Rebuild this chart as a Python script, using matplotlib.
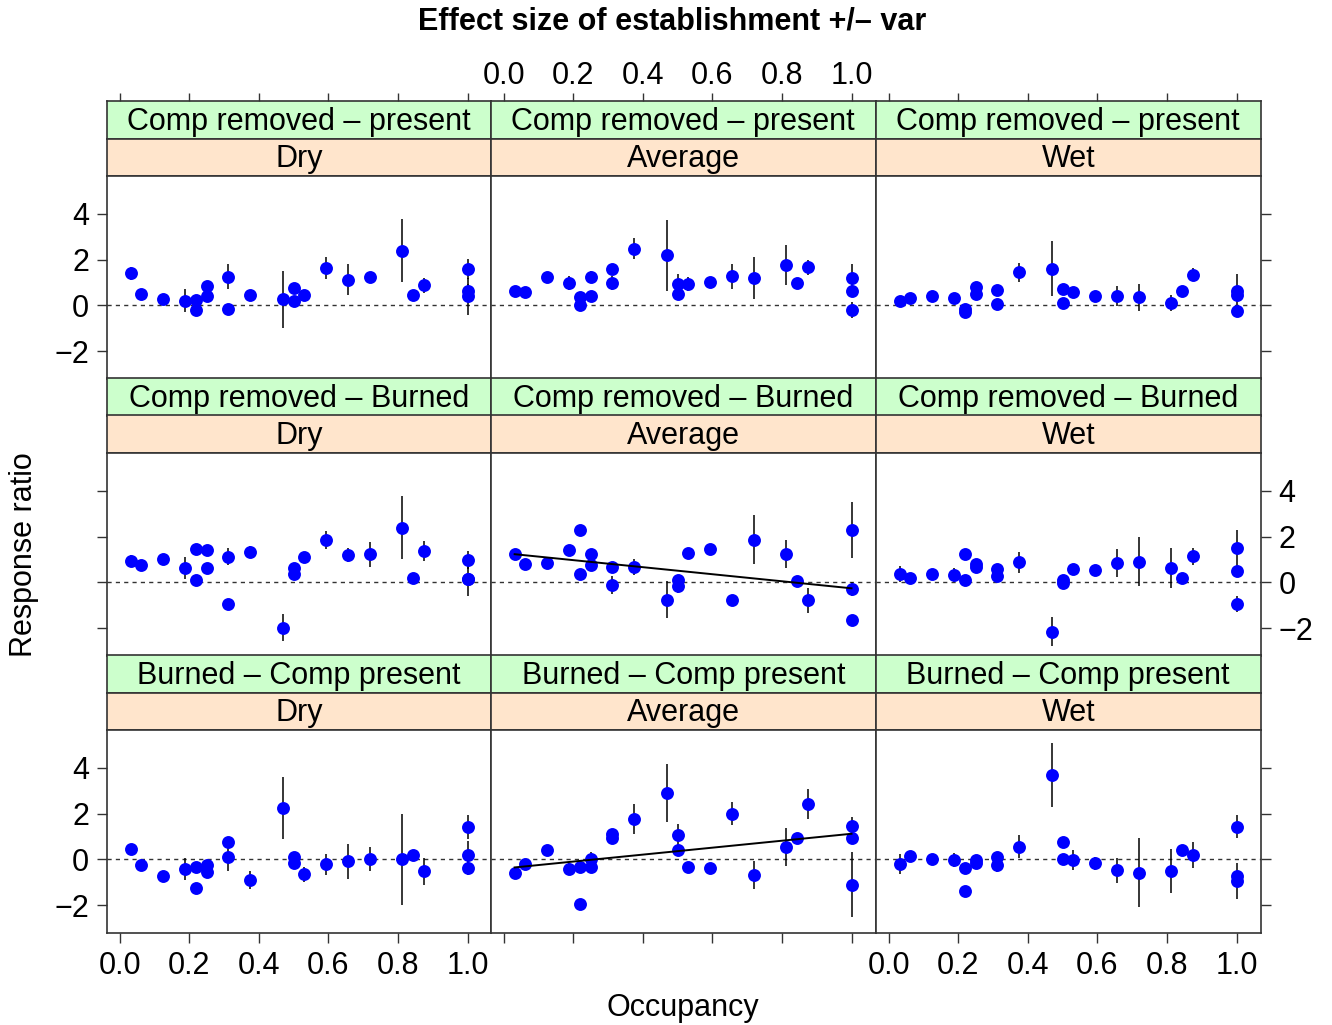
import matplotlib
matplotlib.use("Agg")
import matplotlib.pyplot as plt
import numpy as np

plt.rcParams["font.family"] = ["Liberation Sans", "DejaVu Sans"]
plt.rcParams["axes.unicode_minus"] = True

# occupancy of each point (same for every panel)
occupancy = [0.031, 0.062, 0.125, 0.188, 0.219, 0.219, 0.250, 0.250, 0.312, 0.312,
             0.375, 0.469, 0.500, 0.500, 0.531, 0.594, 0.656, 0.719, 0.812, 0.844,
             0.875, 1.0, 1.0, 1.0]

treatments = ["Comp removed \u2013 present", "Comp removed \u2013 Burned", "Burned \u2013 Comp present"]
climates = ["Dry", "Average", "Wet"]

# response ratio and its variance bar, one pair per panel
rr_present_dry = [1.40, 0.51, 0.28, 0.21, 0.22, -0.22, 0.84, 0.40, 1.26, -0.16, 0.46, 0.26,
                  0.74, 0.19, 0.47, 1.63, 1.12, 1.22, 2.40, 0.47, 0.88, 1.59, 0.62, 0.40]
err_present_dry = [0.30, 0.1, 0.1, 0.50, 0.1, 0.1, 0.1, 0.1, 0.55, 0.1, 0.1, 1.23,
                   0.1, 0.1, 0.1, 0.49, 0.68, 0.1, 1.36, 0.1, 0.33, 0.45, 0.3, 0.80]
rr_present_avg = [0.65, 0.59, 1.26, 0.99, 0.37, 0.00, 1.25, 0.43, 1.57, 0.99, 2.48, 2.19,
                  0.94, 0.49, 0.93, 1.04, 1.28, 1.18, 1.78, 0.99, 1.66, 1.21, 0.63, -0.19]
err_present_avg = [0.1, 0.1, 0.1, 0.3, 0.1, 0.1, 0.27, 0.1, 0.1, 0.3, 0.45, 1.56,
                   0.45, 0.1, 0.3, 0.1, 0.55, 0.92, 0.88, 0.1, 0.33, 0.6, 0.1, 0.35]
rr_present_wet = [0.19, 0.31, 0.41, 0.32, -0.15, -0.27, 0.79, 0.51, 0.69, 0.07, 1.44, 1.60,
                  0.72, 0.12, 0.59, 0.40, 0.40, 0.35, 0.12, 0.62, 1.35, 0.62, 0.46, -0.25]
err_present_wet = [0.1, 0.1, 0.1, 0.1, 0.1, 0.1, 0.1, 0.1, 0.1, 0.1, 0.4, 1.2,
                   0.1, 0.1, 0.1, 0.1, 0.43, 0.58, 0.35, 0.1, 0.27, 0.75, 0.1, 0.1]

rr_burned_dry = [0.94, 0.76, 1.04, 0.63, 1.46, 0.09, 1.40, 0.62, 1.13, -0.93, 1.35, -1.98,
                 0.65, 0.35, 1.13, 1.85, 1.19, 1.22, 2.40, 0.21, 1.38, 0.97, 0.15, 0.15]
err_burned_dry = [0.25, 0.1, 0.1, 0.47, 0.1, 0.1, 0.1, 0.1, 0.38, 0.1, 0.25, 0.58,
                  0.1, 0.1, 0.1, 0.4, 0.3, 0.55, 1.36, 0.1, 0.45, 0.4, 0.75, 0.1]
rr_burned_avg = [1.25, 0.81, 0.85, 1.40, 2.31, 0.35, 1.26, 0.75, 0.66, -0.12, 0.68, -0.75,
                 0.09, -0.18, 1.29, 1.46, -0.75, 1.87, 1.24, 0.06, -0.79, 2.29, -0.29, -1.66]
err_burned_avg = [0.1, 0.1, 0.1, 0.25, 0.1, 0.1, 0.1, 0.1, 0.1, 0.38, 0.35, 0.8,
                  0.1, 0.3, 0.1, 0.1, 0.1, 1.06, 0.63, 0.1, 0.55, 1.23, 0.3, 0.2]
rr_burned_wet = [0.38, 0.18, 0.35, 0.32, 1.26, 0.10, 0.82, 0.66, 0.57, 0.29, 0.88, -2.15,
                 0.12, -0.04, 0.60, 0.56, 0.84, 0.91, 0.63, 0.19, 1.15, 1.49, 0.50, -0.96]
err_burned_wet = [0.35, 0.1, 0.1, 0.3, 0.1, 0.1, 0.1, 0.1, 0.1, 0.1, 0.46, 0.62,
                  0.1, 0.1, 0.1, 0.1, 0.62, 1.09, 0.86, 0.1, 0.37, 0.78, 0.1, 0.35]

rr_comp_dry = [0.47, -0.26, -0.74, -0.44, -0.32, -1.27, -0.23, -0.57, 0.76, 0.10, -0.90, 2.26,
               0.10, -0.16, -0.66, -0.22, -0.09, 0.00, 0.00, 0.21, -0.53, 1.43, 0.21, -0.39]
err_comp_dry = [0.1, 0.1, 0.1, 0.48, 0.1, 0.1, 0.1, 0.1, 0.1, 0.6, 0.4, 1.35,
                0.1, 0.1, 0.32, 0.47, 0.78, 0.52, 2.0, 0.1, 0.58, 0.53, 0.6, 0.3]
rr_comp_avg = [-0.59, -0.20, 0.42, -0.42, -0.32, -1.94, 0.01, -0.35, 1.09, 0.93, 1.77, 2.92,
               1.05, 0.42, -0.35, -0.39, 2.00, -0.69, 0.55, 0.92, 2.42, 1.44, 0.92, -1.10]
err_comp_avg = [0.1, 0.1, 0.1, 0.25, 0.1, 0.1, 0.3, 0.1, 0.2, 0.1, 0.67, 1.27,
                0.5, 0.1, 0.25, 0.25, 0.5, 0.6, 0.83, 0.1, 0.67, 0.42, 0.1, 1.44]
rr_comp_wet = [-0.20, 0.13, 0.00, -0.03, -0.38, -1.39, -0.04, -0.15, 0.10, -0.26, 0.55, 3.71,
               0.77, 0.00, -0.03, -0.18, -0.48, -0.58, -0.50, 0.41, 0.19, 1.42, -0.74, -0.95]
err_comp_wet = [0.45, 0.1, 0.1, 0.3, 0.1, 0.1, 0.1, 0.1, 0.1, 0.3, 0.5, 1.4,
                0.1, 0.1, 0.42, 0.3, 0.55, 1.5, 0.96, 0.1, 0.56, 0.5, 0.1, 0.8]

# fitted lines (intercept, slope) where the relationship was significant
fit_burned_avg = (1.28, -1.54)
fit_comp_avg = (-0.40, 1.52)

panels = [
    [(rr_present_dry, err_present_dry, None), (rr_present_avg, err_present_avg, None),
     (rr_present_wet, err_present_wet, None)],
    [(rr_burned_dry, err_burned_dry, None), (rr_burned_avg, err_burned_avg, fit_burned_avg),
     (rr_burned_wet, err_burned_wet, None)],
    [(rr_comp_dry, err_comp_dry, None), (rr_comp_avg, err_comp_avg, fit_comp_avg),
     (rr_comp_wet, err_comp_wet, None)],
]

W, H = 1332, 1025
FS = 22
frame_col = "#333333"
col_x = [107, 491, 876]
col_w = 384.5
row_top = [101, 378, 655]
strip_h = 37.5
panel_h = 202.5
xlim = (-0.037, 1.069)
ylim = (-3.2, 5.66)
xt = [0.0, 0.2, 0.4, 0.6, 0.8, 1.0]
yt = [-2, 0, 2, 4]


def rect(x, y, w, h):
    return [x / W, 1 - (y + h) / H, w / W, h / H]


def ylabels(vals):
    return [f"{v}".replace("-", "\u2212") for v in vals]


fig = plt.figure(figsize=(W / 100, H / 100), dpi=100)

x = np.array(occupancy)
for r in range(3):
    for c in range(3):
        rr, err, fit = panels[r][c]
        top = row_top[r]
        # strips
        for k, (label, colour) in enumerate([(treatments[r], "#ccffcc"), (climates[c], "#ffe5cc")]):
            sax = fig.add_axes(rect(col_x[c], top + k * strip_h, col_w, strip_h))
            sax.set_facecolor(colour)
            sax.set_xlim(xlim)
            sax.set_yticks([])
            sax.set_xticks([])
            for sp in sax.spines.values():
                sp.set_color(frame_col)
                sp.set_linewidth(1.2)
            sax.text(0.5, 0.45, label, transform=sax.transAxes, ha="center", va="center", fontsize=FS)
            if r == 0 and k == 0:
                sax.xaxis.set_ticks_position("top")
                sax.set_xticks(xt)
                sax.tick_params(axis="x", direction="out", length=6, width=1, color=frame_col,
                                labelsize=FS, pad=1)
                sax.set_xticklabels([f"{v:.1f}" for v in xt] if c == 1 else [])
        ax = fig.add_axes(rect(col_x[c], top + 2 * strip_h, col_w, panel_h))
        ax.set_xlim(xlim)
        ax.set_ylim(ylim)
        ax.axhline(0, color=frame_col, lw=1.0, ls=(0, (3, 3)), zorder=1)
        ax.errorbar(x, rr, yerr=err, fmt="none", ecolor="black", elinewidth=1.1, capsize=0, zorder=2)
        ax.plot(x, rr, "o", color="#0000ff", ms=9.3, mec="none", zorder=3)
        if fit is not None:
            xs = np.array([x.min(), x.max()])
            ax.plot(xs, fit[0] + fit[1] * xs, color="black", lw=1.4, zorder=4)
        for sp in ax.spines.values():
            sp.set_color(frame_col)
            sp.set_linewidth(1.2)
        ax.tick_params(direction="out", length=7, width=1, color=frame_col, labelsize=FS, pad=6)
        # y ticks: outer columns only, labels alternate left/right
        if c == 0:
            ax.set_yticks(yt)
            ax.yaxis.set_ticks_position("left")
            ax.set_yticklabels([] if r == 1 else ylabels(yt))
        elif c == 2:
            ax.set_yticks(yt)
            ax.yaxis.set_ticks_position("right")
            ax.set_yticklabels(ylabels(yt) if r == 1 else [])
        else:
            ax.set_yticks([])
        # x ticks: bottom row only, labels on outer columns
        if r == 2:
            ax.set_xticks(xt)
            ax.set_xticklabels([] if c == 1 else [f"{v:.1f}" for v in xt])
        else:
            ax.set_xticks([])

fig.text(672 / W, 1 - 21 / H, "Effect size of establishment +/\u2013 var", ha="center", va="center",
         fontsize=FS, fontweight="bold")
fig.text(683 / W, 1 - 1008 / H, "Occupancy", ha="center", va="center", fontsize=FS)
fig.text(24 / W, 1 - 555 / H, "Response ratio", ha="center", va="center", rotation=90, fontsize=FS)

plt.savefig("out.png", dpi=100)
